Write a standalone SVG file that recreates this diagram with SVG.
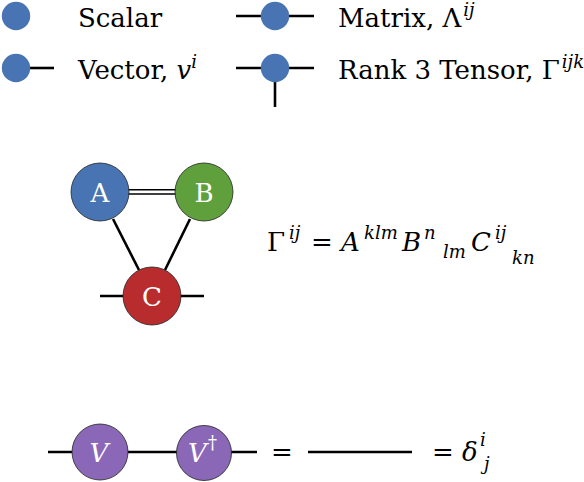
<svg xmlns="http://www.w3.org/2000/svg" width="584" height="482" viewBox="0 0 584 482">
<style>
.t{font-family:"DejaVu Serif",serif;font-size:26px;fill:#000}
.i{font-style:italic}
.s{font-size:18px}
.w{fill:#fff}
.ln{stroke:#000;stroke-width:2.6;fill:none}
.thin{stroke:#000;stroke-width:1.6;fill:none}
.blue{fill:#4874b4}
.node{stroke:#222;stroke-width:0.8}
</style>
<rect width="584" height="482" fill="#fff"/>
<g id="connectors">
  <line class="ln" x1="30" y1="68" x2="54" y2="68"/>
  <line class="ln" x1="236" y1="16" x2="314" y2="16"/>
  <line class="ln" x1="236" y1="68" x2="314" y2="68"/>
  <line class="ln" x1="275" y1="68" x2="275" y2="107"/>
  <line class="thin" x1="128" y1="189.8" x2="176" y2="189.8"/>
  <line class="thin" x1="128" y1="194" x2="176" y2="194"/>
  <line class="ln" x1="113" y1="219" x2="139" y2="270"/>
  <line class="ln" x1="190" y1="219" x2="165" y2="270"/>
  <line class="ln" x1="100" y1="296" x2="204" y2="296"/>
  <line class="ln" x1="48" y1="452" x2="257" y2="452"/>
  <line class="ln" x1="308" y1="452" x2="412" y2="452"/>
</g>
<g id="scalar">
  <circle class="blue" cx="16" cy="16" r="14.2"/>
  <text class="t" x="78" y="27">Scalar</text>
</g>
<g id="vector">
  <circle class="blue" cx="16" cy="68" r="14.2"/>
  <text class="t" x="78" y="79">Vector, <tspan class="i">v</tspan><tspan class="i s" dy="-11">i</tspan></text>
</g>
<g id="matrix">
  <circle class="blue" cx="275" cy="16" r="14.2"/>
  <text class="t" x="338" y="27">Matrix, Λ<tspan class="i s" dx="2" dy="-11">ij</tspan></text>
</g>
<g id="tensor">
  <circle class="blue" cx="275" cy="68" r="14.2"/>
  <text class="t" x="338" y="79">Rank 3 Tensor, Γ<tspan class="i s" dx="2" dy="-11">ijk</tspan></text>
</g>
<g id="A">
  <circle class="node" cx="100" cy="192" r="29" fill="#4874b4"/>
  <text class="t w" x="100" y="201.5" text-anchor="middle">A</text>
</g>
<g id="B">
  <circle class="node" cx="204" cy="192" r="29" fill="#60a03c"/>
  <text class="t w" x="204" y="201.5" text-anchor="middle">B</text>
</g>
<g id="C">
  <circle class="node" cx="152" cy="296" r="29" fill="#b82c2d"/>
  <text class="t w" x="152" y="305.5" text-anchor="middle">C</text>
</g>
<g id="equation">
  <text class="t" x="267" y="251">Γ</text>
  <text class="t i s" x="289" y="239">ij</text>
  <text class="t" x="311" y="251">=</text>
  <text class="t i" x="341" y="251">A</text>
  <text class="t i s" x="364" y="239">klm</text>
  <text class="t i" x="402" y="251">B</text>
  <text class="t i s" x="424" y="239">n</text>
  <text class="t i s" x="443" y="258">lm</text>
  <text class="t i" x="471" y="251">C</text>
  <text class="t i s" x="495" y="239">ij</text>
  <text class="t i s" x="512" y="264">kn</text>
</g>
<g id="V">
  <circle class="node" cx="100" cy="452" r="28" fill="#8b67b8"/>
  <text class="t i w" x="99" y="462" text-anchor="middle">V</text>
</g>
<g id="Vdag">
  <circle class="node" cx="204" cy="453" r="27.5" fill="#8b67b8"/>
  <text class="t i w" x="188" y="462">V</text>
  <text class="t s w" x="208" y="449">†</text>
</g>
<g id="identity">
  <text class="t" x="271" y="461">=</text>
  <text class="t" x="432" y="461">=</text>
  <text class="t i" x="462" y="461">δ</text>
  <text class="t i s" x="480" y="446">i</text>
  <text class="t i s" x="484" y="470">j</text>
</g>
</svg>
